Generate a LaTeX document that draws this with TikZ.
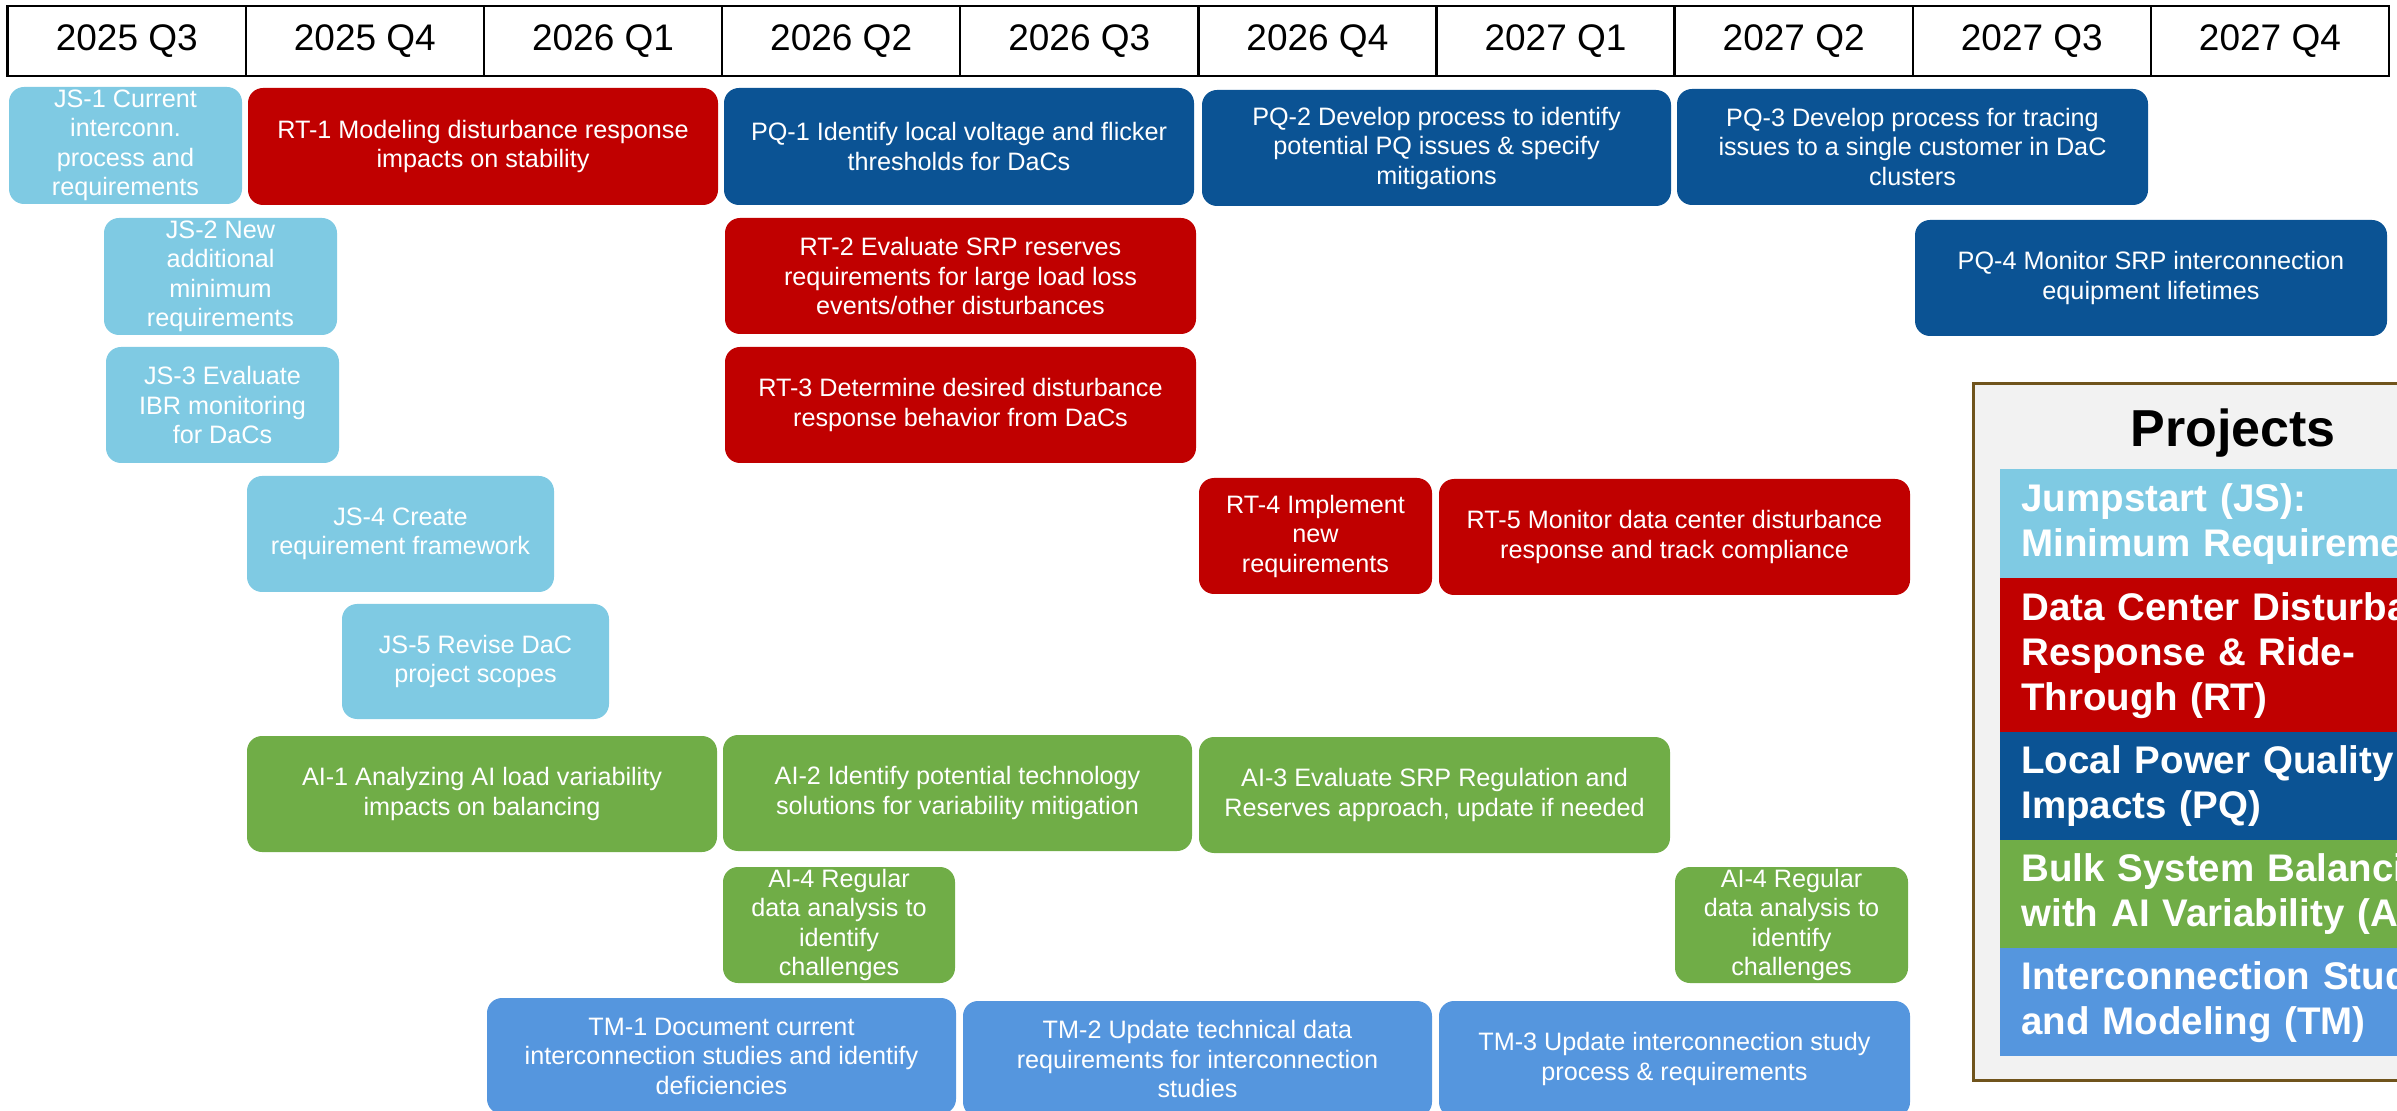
\documentclass[tikz,border=0pt]{standalone}
\usepackage{fontspec}
\setmainfont{Liberation Sans}
\usetikzlibrary{positioning}

\definecolor{jsc}{HTML}{7FCAE3}
\definecolor{rtc}{HTML}{C00000}
\definecolor{pqc}{HTML}{0B5394}
\definecolor{aic}{HTML}{70AD47}
\definecolor{tmc}{HTML}{5596DE}
\definecolor{framec}{RGB}{112,84,28}
\definecolor{panelc}{HTML}{F2F2F2}

\newcommand\taskfont{\fontsize{12.6pt}{14.75pt}\selectfont}
\newcommand\hdrfont{\fontsize{18.5pt}{22pt}\selectfont}
\newcommand\keyfont{\bfseries\fontsize{19.25pt}{22.5pt}\selectfont}
\newcommand\keytitlefont{\bfseries\fontsize{26pt}{30pt}\selectfont}

% one rounded task box: name, colour, x1, y1, x2, y2 (pixel grid), text
\newcommand\plantask[7]{%
  \node[taskbox, fill=#2,
        minimum width={(#5-#3)*0.5pt}, minimum height={(#6-#4)*0.5pt}]
    (#1) at ({(#3+#5)/2},{(#4+#6)/2}) {#7};}

\tikzset{
  taskbox/.style={rounded corners=7.5pt, inner sep=0pt, text=white,
                  align=center, font=\taskfont},
  hdrcell/.style={draw=black, line width=1.25pt, fill=white, inner sep=0pt,
                  minimum width=119.07pt, minimum height=35pt, font=\hdrfont},
  keyband/.style={anchor=north west, inner xsep=10.5pt, inner ysep=0pt,
                  text width=330pt, align=left, text=white, font=\keyfont},
  keyframe/.style={draw=framec, line width=1.5pt, fill=panelc},
}

\begin{document}
\begin{tikzpicture}[x=0.5pt, y=-0.5pt]
\useasboundingbox (0,0) rectangle (2397,1111);
\clip (0,0) rectangle (2397,1111);

% quarter header
\foreach \i/\lbl in {0/2025 Q3, 1/2025 Q4, 2/2026 Q1, 3/2026 Q2, 4/2026 Q3,
                     5/2026 Q4, 6/2027 Q1, 7/2027 Q2, 8/2027 Q3, 9/2027 Q4}
  \node[hdrcell] (h\i) at ({7.7+238.13*(\i+0.5)},41) {\lbl};

% Jumpstart
\plantask{js1}{jsc}{9}{87}{242}{204}{JS-1 Current\\interconn.\\process and\\requirements}
\plantask{js2}{jsc}{104}{218}{337}{335}{JS-2 New\\additional\\minimum\\requirements}
\plantask{js3}{jsc}{106}{347}{339}{463}{JS-3 Evaluate\\IBR monitoring\\for DaCs}
\plantask{js4}{jsc}{247}{476}{554}{592}{JS-4 Create\\requirement framework}
\plantask{js5}{jsc}{342}{604}{609}{719}{JS-5 Revise DaC\\project scopes}

% Ride-through
\plantask{rt1}{rtc}{248}{88}{718}{205}{RT-1 Modeling disturbance response\\impacts on stability}
\plantask{rt2}{rtc}{725}{218}{1196}{334}{RT-2 Evaluate SRP reserves\\requirements for large load loss\\events/other disturbances}
\plantask{rt3}{rtc}{725}{347}{1196}{463}{RT-3 Determine desired disturbance\\response behavior from DaCs}
\plantask{rt4}{rtc}{1199}{478}{1432}{594}{RT-4 Implement\\new\\requirements}
\plantask{rt5}{rtc}{1439}{479}{1910}{595}{RT-5 Monitor data center disturbance\\response and track compliance}

% Power quality
\plantask{pq1}{pqc}{724}{88}{1194}{205}{PQ-1 Identify local voltage and flicker\\thresholds for DaCs}
\plantask{pq2}{pqc}{1202}{90}{1671}{206}{PQ-2 Develop process to identify\\potential PQ issues \& specify\\mitigations}
\plantask{pq3}{pqc}{1677}{89}{2148}{205}{PQ-3 Develop process for tracing\\issues to a single customer in DaC\\clusters}
\plantask{pq4}{pqc}{1915}{220}{2387}{336}{PQ-4 Monitor SRP interconnection\\equipment lifetimes}

% AI variability
\plantask{ai1}{aic}{247}{736}{717}{852}{AI-1 Analyzing AI load variability\\impacts on balancing}
\plantask{ai2}{aic}{723}{735}{1192}{851}{AI-2 Identify potential technology\\solutions for variability mitigation}
\plantask{ai3}{aic}{1199}{737}{1670}{853}{AI-3 Evaluate SRP Regulation and\\Reserves approach, update if needed}
\plantask{ai4a}{aic}{723}{867}{955}{983}{AI-4 Regular\\data analysis to\\identify\\challenges}
\plantask{ai4b}{aic}{1675}{867}{1908}{983}{AI-4 Regular\\data analysis to\\identify\\challenges}

% Studies and modeling
\plantask{tm1}{tmc}{487}{998}{956}{1114}{TM-1 Document current\\interconnection studies and identify\\deficiencies}
\plantask{tm2}{tmc}{963}{1001}{1432}{1117}{TM-2 Update technical data\\requirements for interconnection\\studies}
\plantask{tm3}{tmc}{1439}{1001}{1910}{1117}{TM-3 Update interconnection study\\process \& requirements}

% project key
\draw[keyframe] (1973,384) rectangle (2470,1080);
\node[anchor=base, font=\keytitlefont] (keytitle) at (2233,447) {Projects};
\node[keyband, fill=jsc, minimum height=54.5pt] (keyjs) at (2000,469)
  {Jumpstart (JS):\\Minimum Requirements};
\node[keyband, fill=rtc, minimum height=77pt] (keyrt) at (2000,578)
  {Data Center Disturbance\\Response \& Ride-\\Through (RT)};
\node[keyband, fill=pqc, minimum height=54pt] (keypq) at (2000,732)
  {Local Power Quality and\\Impacts (PQ)};
\node[keyband, fill=aic, minimum height=54pt] (keyai) at (2000,840)
  {Bulk System Balancing\\with AI Variability (AI)};
\node[keyband, fill=tmc, minimum height=54pt] (keytm) at (2000,948)
  {Interconnection Studies\\and Modeling (TM)};
\end{tikzpicture}
\end{document}
